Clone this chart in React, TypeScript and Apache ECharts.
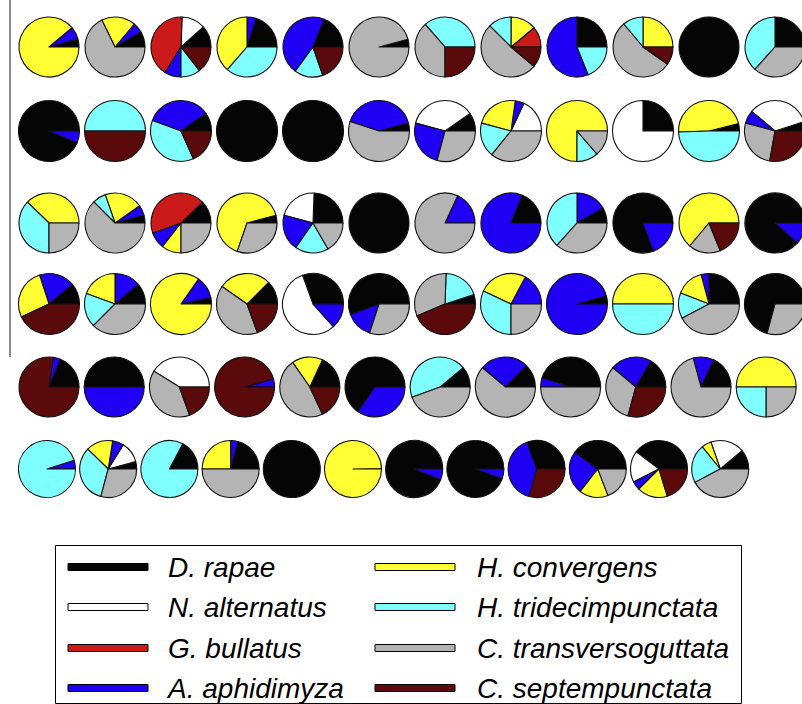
import React, { useEffect, useRef } from "react";
import * as echarts from "echarts";

// Species in slice order (counter-clockwise from 3 o'clock)
const SPECIES = [
  "D. rapae",
  "N. alternatus",
  "G. bullatus",
  "A. aphidimyza",
  "H. convergens",
  "H. tridecimpunctata",
  "C. transversoguttata",
  "C. septempunctata",
];
const COLORS = ["#050505", "#ffffff", "#cc1a1a", "#1f00f5", "#ffff33", "#80ffff", "#b4b4b4", "#5a0a0a"];

// Composition of each sample, one array per row of pies (species order as above)
const ROW1 = [
  [16, 0, 0, 24, 320, 0, 0, 0],
  [30, 0, 0, 20, 66, 0, 244, 0],
  [42, 46, 150, 32, 0, 38, 0, 52],
  [72, 0, 0, 18, 139, 131, 0, 0],
  [68, 0, 0, 166, 0, 55, 0, 71],
  [15, 0, 0, 0, 0, 0, 345, 0],
  [0, 0, 0, 0, 0, 131, 139, 90],
  [0, 0, 40, 0, 50, 45, 185, 40],
  [90, 0, 0, 202, 0, 68, 0, 0],
  [0, 0, 0, 0, 90, 40, 195, 35],
  [360, 0, 0, 0, 0, 0, 0, 0],
  [90, 0, 0, 0, 0, 138, 132, 0],
];
const ROW2 = [
  [337, 0, 0, 23, 0, 0, 0, 0],
  [0, 0, 0, 0, 0, 180, 0, 180],
  [35, 0, 0, 125, 0, 134, 0, 66],
  [360, 0, 0, 0, 0, 0, 0, 0],
  [360, 0, 0, 0, 0, 0, 0, 0],
  [15, 0, 0, 147, 0, 0, 198, 0],
  [35, 130, 0, 90, 0, 0, 105, 0],
  [0, 65, 0, 17, 83, 66, 129, 0],
  [0, 0, 0, 0, 270, 41, 49, 0],
  [90, 270, 0, 0, 0, 0, 0, 0],
  [14, 0, 0, 0, 168, 178, 0, 0],
  [18, 122, 0, 25, 0, 0, 95, 100],
];
const ROW3 = [
  [0, 0, 0, 0, 136, 134, 90, 0],
  [15, 0, 0, 20, 74, 26, 225, 0],
  [44, 0, 156, 32, 38, 0, 90, 0],
  [15, 0, 0, 0, 236, 0, 109, 0],
  [88, 77, 0, 70, 0, 65, 60, 0],
  [360, 0, 0, 0, 0, 0, 0, 0],
  [0, 0, 0, 65, 0, 0, 295, 0],
  [68, 0, 0, 292, 0, 0, 0, 0],
  [30, 0, 0, 60, 0, 138, 132, 0],
  [290, 0, 0, 70, 0, 0, 0, 0],
  [0, 0, 0, 0, 230, 0, 62, 68],
  [318, 0, 0, 42, 0, 0, 0, 0],
];
const ROW4 = [
  [40, 0, 0, 68, 97, 0, 0, 155],
  [40, 0, 0, 50, 70, 65, 135, 0],
  [12, 0, 0, 43, 305, 0, 0, 0],
  [45, 0, 0, 0, 100, 0, 145, 70],
  [110, 202, 0, 48, 0, 0, 0, 0],
  [200, 0, 0, 52, 0, 0, 108, 0],
  [18, 0, 0, 0, 0, 70, 115, 157],
  [0, 0, 0, 62, 93, 115, 90, 0],
  [15, 0, 0, 345, 0, 0, 0, 0],
  [0, 0, 0, 0, 180, 180, 0, 0],
  [90, 0, 0, 15, 54, 49, 152, 0],
  [255, 0, 0, 0, 0, 0, 105, 0],
];
const ROW5 = [
  [68, 0, 0, 14, 0, 0, 0, 278],
  [180, 0, 0, 180, 0, 0, 0, 0],
  [0, 148, 0, 0, 0, 0, 142, 70],
  [0, 0, 0, 16, 0, 0, 0, 344],
  [65, 0, 0, 0, 60, 0, 170, 65],
  [235, 0, 0, 125, 0, 0, 0, 0],
  [40, 0, 0, 0, 0, 160, 160, 0],
  [45, 0, 0, 95, 0, 0, 220, 0],
  [162, 0, 0, 18, 0, 0, 180, 0],
  [60, 0, 0, 80, 0, 0, 115, 105],
  [65, 0, 0, 40, 0, 0, 255, 0],
  [0, 0, 0, 0, 180, 90, 90, 0],
];
const ROW6 = [
  [0, 0, 0, 18, 0, 342, 0, 0],
  [15, 43, 0, 23, 55, 119, 105, 0],
  [62, 0, 0, 0, 0, 298, 0, 0],
  [75, 0, 0, 15, 90, 0, 180, 0],
  [360, 0, 0, 0, 0, 0, 0, 0],
  [1, 0, 0, 0, 359, 0, 0, 0],
  [338, 0, 0, 22, 0, 0, 0, 0],
  [340, 0, 0, 20, 0, 0, 0, 0],
  [110, 0, 0, 145, 0, 0, 0, 105],
  [144, 0, 0, 88, 59, 0, 69, 0],
  [143, 64, 0, 18, 62, 0, 0, 73],
  [40, 69, 0, 0, 20, 79, 152, 0],
];

const ROWS = [ROW1, ROW2, ROW3, ROW4, ROW5, ROW6];

// Grid layout of the pies: row centre, first column centre, column step, radius
const ROW_LAYOUT = [
  { y: 47, x0: 49, step: 66, r: 30 },
  { y: 131, x0: 49, step: 66, r: 30.5 },
  { y: 223, x0: 49, step: 66, r: 30 },
  { y: 304, x0: 49, step: 66, r: 30.5 },
  { y: 387, x0: 49, step: 65.2, r: 30 },
  { y: 469, x0: 47, step: 61.2, r: 28.5 },
];

function buildSeries() {
  const series: any[] = [];
  ROWS.forEach((row, ri) => {
    const L = ROW_LAYOUT[ri];
    row.forEach((vals, ci) => {
      series.push({
        type: "pie",
        center: [L.x0 + ci * L.step, L.y],
        radius: L.r,
        startAngle: 0,
        clockwise: false,
        silent: true,
        label: { show: false },
        labelLine: { show: false },
        emphasis: { disabled: true },
        itemStyle: { borderColor: "#111", borderWidth: 1.1 },
        data: vals
          .map((v, i) => ({ value: v, name: SPECIES[i], itemStyle: { color: COLORS[i] } }))
          .filter((d) => d.value > 0),
      });
    });
  });
  return series;
}

function buildLegend() {
  const rowsY = [567, 607, 648, 688];
  const els: any[] = [
    {
      type: "rect",
      shape: { x: 55.5, y: 545.5, width: 686, height: 158 },
      style: { fill: "#fff", stroke: "#000", lineWidth: 1 },
    },
  ];
  SPECIES.forEach((name, i) => {
    const col = i < 4 ? 0 : 1;
    const y = rowsY[i % 4];
    const lx = col ? 375 : 68;
    const tx = col ? 477 : 168;
    els.push({
      type: "rect",
      shape: { x: lx, y: y - 3.5, width: 80, height: 7 },
      style: { fill: COLORS[i], stroke: "#000", lineWidth: 1 },
    });
    els.push({
      type: "text",
      x: tx,
      y: y,
      style: {
        text: name,
        fill: "#000",
        font: "italic 28px 'Liberation Sans', Arial, sans-serif",
        textVerticalAlign: "middle",
        verticalAlign: "middle",
      },
    });
  });
  return els;
}

export default function App() {
  const ref = useRef<HTMLDivElement>(null);
  useEffect(() => {
    if (!ref.current) return;
    const chart = echarts.init(ref.current, undefined, { renderer: "svg" });
    chart.setOption({
      animation: false,
      backgroundColor: "#ffffff",
      series: buildSeries(),
      graphic: [
        {
          type: "line",
          shape: { x1: 10, y1: 0, x2: 10, y2: 357 },
          style: { stroke: "#666", lineWidth: 1.5 },
        },
        ...buildLegend(),
      ],
    });
    return () => chart.dispose();
  }, []);
  return (
    <div
      ref={ref}
      style={{ position: "absolute", left: 0, top: 0, width: 802, height: 704 }}
    />
  );
}
